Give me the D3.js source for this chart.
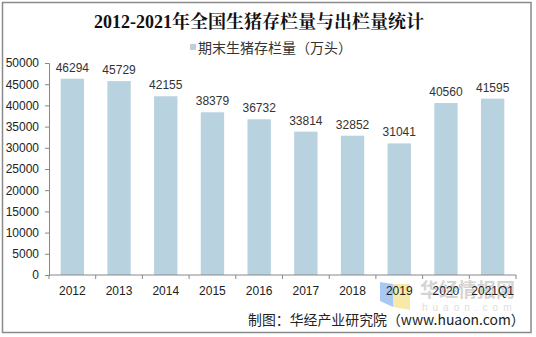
<!DOCTYPE html>
<html>
<head>
<meta charset="utf-8">
<script src="https://cdn.jsdelivr.net/npm/d3@7"></script>
<style>
  html, body { margin: 0; padding: 0; background: #fff; }
  svg { display: block; }
</style>
</head>
<body>
<svg id="chart" width="536" height="337"></svg>
<script>
// Year-end live hog inventory (10k head)
const categories = ["2012", "2013", "2014", "2015", "2016", "2017", "2018", "2019", "2020", "2021Q1"];
const inventory = [46294, 45729, 42155, 38379, 36732, 33814, 32852, 31041, 40560, 41595];
const yTicks = [0, 5000, 10000, 15000, 20000, 25000, 30000, 35000, 40000, 45000, 50000];

const svg = d3.select("#chart");
const sans = "Arial, 'Liberation Sans', 'Noto Sans CJK SC', sans-serif";

// outer frame
svg.append("rect").attr("x", 2.5).attr("y", 2.5).attr("width", 528.5).attr("height", 330)
  .attr("fill", "#fff").attr("stroke", "#8a8a8a").attr("stroke-width", 1.5);

const plot = { left: 49, right: 516, top: 63, bottom: 275 };

const x = d3.scaleBand().domain(categories).range([plot.left, plot.right]).paddingInner(0.5).paddingOuter(0.25);
const y = d3.scaleLinear().domain([0, 50000]).range([plot.bottom, plot.top]);

// title
svg.append("text").attr("x", 259).attr("y", 28).attr("text-anchor", "middle")
  .attr("font-family", "'Liberation Serif', 'Noto Serif CJK SC', 'Noto Sans CJK SC', serif")
  .attr("font-weight", "bold").attr("font-size", 18).attr("fill", "#111")
  .text("2012-2021年全国生猪存栏量与出栏量统计");

// legend
svg.append("rect").attr("x", 190).attr("y", 44).attr("width", 6).attr("height", 6).attr("fill", "#bccfdb");
svg.append("text").attr("x", 198).attr("y", 52.5).attr("font-family", "'Noto Sans CJK SC', sans-serif")
  .attr("font-size", 14).attr("fill", "#333").text("期末生猪存栏量（万头）");

// bars
svg.append("g").selectAll("rect").data(categories).join("rect")
  .attr("x", d => x(d))
  .attr("width", x.bandwidth())
  .attr("y", (d, i) => y(inventory[i]))
  .attr("height", (d, i) => y(0) - y(inventory[i]))
  .attr("fill", "#b9d2e0");

// value labels
svg.append("g").selectAll("text").data(categories).join("text")
  .attr("x", d => x(d) + x.bandwidth() / 2)
  .attr("y", (d, i) => y(inventory[i]) - 7)
  .attr("text-anchor", "middle")
  .attr("font-family", sans).attr("font-size", 12).attr("fill", "#333")
  .text((d, i) => inventory[i]);

// y axis
const yAxis = svg.append("g").attr("transform", `translate(${plot.left},0)`)
  .call(d3.axisLeft(y).tickValues(yTicks).tickSize(4).tickPadding(6).tickFormat(d3.format("d")));
yAxis.select(".domain").attr("stroke", "#888");
yAxis.selectAll(".tick line").attr("stroke", "#888");
yAxis.selectAll("text").attr("font-family", sans).attr("font-size", 12).attr("fill", "#222");

// watermark (drawn beneath the axis labels)
const wm = svg.append("g");
wm.append("path").attr("d", "M380,282 L393,284 L393,307 L380,301 Z").attr("fill", "#a9c8f2");
wm.append("path").attr("d", "M393,284 L410,284 L410,310 L393,307 Z").attr("fill", "#f6eaa8");
wm.append("text").attr("x", 420).attr("y", 297).attr("font-family", "'Noto Sans CJK SC', sans-serif")
  .attr("font-weight", "bold").attr("font-size", 19).attr("fill", "#d4d4d4").text("华经情报网");
wm.append("text").attr("x", 422).attr("y", 311).attr("font-family", sans)
  .attr("font-size", 10).attr("letter-spacing", 5).attr("fill", "#dedede").text("huaon.com");

// x axis with ticks between categories
const xAxis = svg.append("g").attr("transform", `translate(0,${plot.bottom})`);
xAxis.append("line").attr("x1", plot.left).attr("x2", plot.right).attr("stroke", "#888");
const bounds = d3.range(categories.length + 1).map(i => plot.left + i * (plot.right - plot.left) / categories.length);
xAxis.selectAll("line.t").data(bounds).join("line").attr("class", "t")
  .attr("x1", d => d).attr("x2", d => d).attr("y1", 0).attr("y2", 4).attr("stroke", "#888");
xAxis.selectAll("text").data(categories).join("text")
  .attr("x", d => x(d) + x.bandwidth() / 2).attr("y", 20)
  .attr("text-anchor", "middle")
  .attr("font-family", sans).attr("font-size", 12).attr("fill", "#222")
  .text(d => d);

// source note
svg.append("text").attr("x", 248).attr("y", 325).attr("font-family", "'Noto Sans CJK SC', Arial, sans-serif")
  .attr("font-size", 13.9).attr("fill", "#222").text("制图：华经产业研究院（www.huaon.com）");
</script>
</body>
</html>
